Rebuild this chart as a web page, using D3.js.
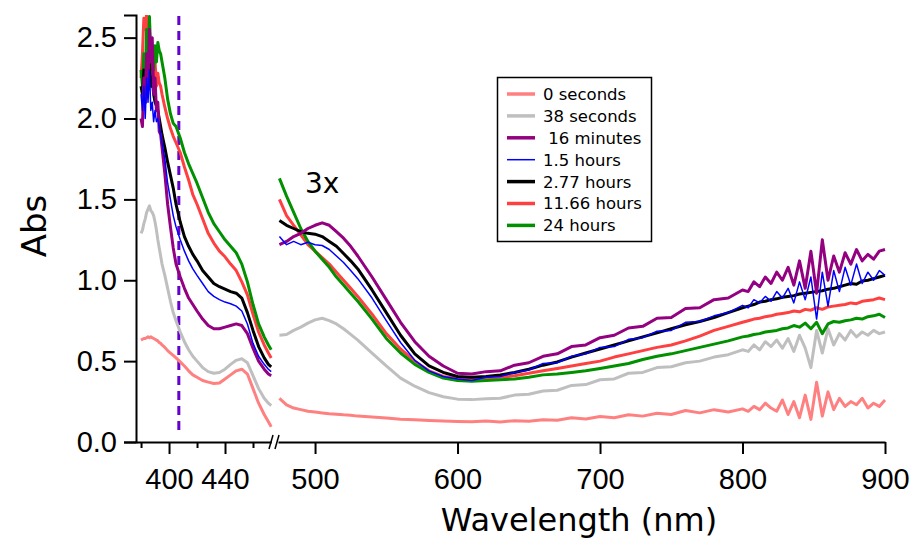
<!doctype html>
<html>
<head>
<script src="https://cdnjs.cloudflare.com/ajax/libs/d3/7.8.5/d3.min.js"></script>
<style>
  body { margin: 0; background: #fff; }
  svg { font-family: "DejaVu Sans", sans-serif; }
  .axis path, .axis line { stroke: #000; stroke-width: 2px; }
  .axis text { font-size: 29px; fill: #000; }
  .legend text { font-size: 16.5px; white-space: pre; }
</style>
</head>
<body>
<svg width="919" height="544"></svg>
<script>
// wavelengths (nm) of the two axis segments
var waveLeft = [380, 381, 382, 383, 384, 385, 386, 387, 388, 389, 390, 391, 392, 393, 394, 395,
  397, 399, 401, 403, 405, 408, 411, 414, 417, 420, 424, 428, 432, 436, 440, 444, 448, 452, 456,
  460, 464, 468, 471, 473];
var waveRight = [475, 480, 485, 490, 495, 500, 505, 510, 515, 520, 525, 530, 540, 550, 560, 570, 580, 590, 600,
  610, 620, 630, 640, 650, 660, 670, 680, 690, 700, 710, 720, 730, 740, 750, 760, 770, 780, 790, 800,
  804, 808, 812, 816, 820, 824, 828, 832, 836, 840, 844, 848, 852, 856, 860, 864, 868, 872, 876, 880,
  884, 888, 892, 896, 900];

var seriesNames = ["0 seconds", "38 seconds", " 16 minutes", "1.5 hours", "2.77 hours", "11.66 hours", "24 hours"];
var seriesColors = ["#ff8080", "#bfbfbf", "#930080", "#0000ff", "#000000", "#ff4040", "#009000"];

// absorbance, left segment (380-473 nm)
var left0s = [0.63, 0.635, 0.64, 0.64, 0.645, 0.65, 0.645, 0.65, 0.645, 0.64, 0.635, 0.63, 0.625, 0.615, 0.61, 0.60,
  0.585, 0.565, 0.55, 0.535, 0.52, 0.495, 0.47, 0.44, 0.415, 0.40, 0.38, 0.37, 0.362, 0.365, 0.39, 0.415, 0.44, 0.45, 0.42,
  0.33, 0.24, 0.17, 0.125, 0.095];
var left38s = [1.29, 1.31, 1.35, 1.38, 1.42, 1.44, 1.46, 1.43, 1.42, 1.40, 1.36, 1.31, 1.25, 1.20, 1.15, 1.10,
  1.03, 0.95, 0.87, 0.80, 0.75, 0.68, 0.62, 0.57, 0.53, 0.50, 0.46, 0.435, 0.425, 0.43, 0.45, 0.48, 0.505, 0.515, 0.49,
  0.41, 0.33, 0.27, 0.24, 0.225];
var left16m = [2.00, 1.95, 2.25, 2.10, 2.40, 2.20, 2.55, 2.35, 2.50, 2.15, 2.25, 2.05, 2.10, 1.92, 1.90, 1.82,
  1.66, 1.47, 1.33, 1.20, 1.10, 1.02, 0.95, 0.89, 0.85, 0.81, 0.76, 0.72, 0.70, 0.70, 0.71, 0.72, 0.73, 0.72, 0.67,
  0.58, 0.50, 0.45, 0.42, 0.41];
var left1_5h = [2.15, 2.05, 2.20, 2.00, 2.25, 2.10, 2.30, 2.05, 2.10, 1.98, 2.05, 1.98, 2.00, 1.95, 1.90, 1.85,
  1.75, 1.60, 1.50, 1.40, 1.33, 1.25, 1.18, 1.12, 1.07, 1.03, 0.98, 0.93, 0.90, 0.88, 0.865, 0.855, 0.84, 0.81, 0.73,
  0.61, 0.53, 0.48, 0.45, 0.435];
var left2_77h = [2.20, 2.15, 2.30, 2.10, 2.35, 2.20, 2.40, 2.20, 2.25, 2.15, 2.10, 2.08, 2.05, 2.00, 1.95, 1.90,
  1.82, 1.73, 1.65, 1.57, 1.47, 1.36, 1.27, 1.21, 1.16, 1.12, 1.06, 1.02, 0.98, 0.96, 0.945, 0.93, 0.92, 0.89, 0.80,
  0.69, 0.59, 0.52, 0.48, 0.465];
var left11_66h = [2.25, 2.40, 2.62, 2.55, 2.65, 2.35, 2.50, 2.30, 2.45, 2.25, 2.35, 2.20, 2.28, 2.22, 2.20, 2.15,
  2.07, 2.00, 1.94, 1.89, 1.85, 1.79, 1.70, 1.62, 1.53, 1.47, 1.38, 1.29, 1.23, 1.18, 1.145, 1.10, 1.06, 0.99, 0.91,
  0.79, 0.68, 0.60, 0.55, 0.52];
var left24h = [2.30, 2.20, 2.40, 2.25, 2.55, 2.35, 2.63, 2.40, 2.45, 2.30, 2.45, 2.35, 2.47, 2.42, 2.40, 2.35,
  2.25, 2.12, 2.03, 1.97, 1.95, 1.88, 1.79, 1.72, 1.66, 1.60, 1.51, 1.42, 1.35, 1.30, 1.25, 1.21, 1.17, 1.10, 0.99,
  0.85, 0.73, 0.65, 0.60, 0.57];

// absorbance, right segment (475-900 nm, shown 3x)
var right0s = [0.27, 0.23, 0.21, 0.20, 0.19, 0.185, 0.18, 0.175, 0.172, 0.168, 0.165, 0.16, 0.155, 0.148, 0.14, 0.137, 0.133, 0.13, 0.127,
  0.125, 0.13, 0.124, 0.132, 0.128, 0.138, 0.134, 0.15, 0.142, 0.158, 0.15, 0.168, 0.16, 0.178, 0.17, 0.195, 0.18, 0.20, 0.185, 0.205,
  0.19, 0.22, 0.20, 0.24, 0.21, 0.19, 0.26, 0.17, 0.25, 0.15, 0.29, 0.14, 0.37, 0.16, 0.31, 0.20, 0.27, 0.22, 0.25, 0.23,
  0.27, 0.21, 0.24, 0.22, 0.26];
var right38s = [0.66, 0.665, 0.69, 0.71, 0.735, 0.755, 0.765, 0.75, 0.73, 0.70, 0.665, 0.63, 0.55, 0.47, 0.395, 0.345, 0.305, 0.28, 0.265,
  0.262, 0.268, 0.27, 0.29, 0.295, 0.315, 0.32, 0.35, 0.355, 0.385, 0.39, 0.425, 0.43, 0.46, 0.465, 0.49, 0.50, 0.525, 0.54, 0.57,
  0.56, 0.60, 0.57, 0.62, 0.59, 0.63, 0.58, 0.64, 0.56, 0.66, 0.58, 0.46, 0.69, 0.55, 0.70, 0.60, 0.67, 0.63, 0.69, 0.65,
  0.68, 0.66, 0.69, 0.67, 0.68];
var right16m = [1.22, 1.24, 1.27, 1.29, 1.32, 1.34, 1.355, 1.34, 1.30, 1.26, 1.21, 1.15, 1.02, 0.88, 0.74, 0.62, 0.53, 0.47, 0.425,
  0.42, 0.435, 0.44, 0.475, 0.49, 0.53, 0.545, 0.59, 0.60, 0.645, 0.66, 0.705, 0.715, 0.765, 0.77, 0.825, 0.83, 0.88, 0.89, 0.94,
  0.93, 0.99, 0.96, 1.02, 0.98, 1.05, 1.00, 1.08, 0.97, 1.12, 0.95, 1.18, 0.92, 1.25, 1.00, 1.15, 1.05, 1.17, 1.10, 1.19,
  1.12, 1.16, 1.13, 1.18, 1.19];
var right1_5h = [1.27, 1.22, 1.24, 1.22, 1.235, 1.22, 1.215, 1.19, 1.15, 1.11, 1.06, 1.01, 0.89, 0.75, 0.615, 0.505, 0.44, 0.405, 0.39,
  0.38, 0.40, 0.405, 0.43, 0.445, 0.485, 0.49, 0.53, 0.545, 0.585, 0.59, 0.635, 0.645, 0.685, 0.69, 0.74, 0.745, 0.78, 0.80, 0.845,
  0.83, 0.88, 0.86, 0.90, 0.87, 0.93, 0.89, 0.95, 0.86, 0.99, 0.88, 1.02, 0.76, 1.05, 0.84, 1.06, 0.93, 1.08, 0.97, 1.10,
  0.98, 1.05, 1.00, 1.06, 1.03];
var right2_77h = [1.37, 1.34, 1.32, 1.30, 1.29, 1.285, 1.27, 1.24, 1.21, 1.165, 1.12, 1.07, 0.94, 0.80, 0.66, 0.545, 0.47, 0.43, 0.405,
  0.40, 0.405, 0.415, 0.43, 0.45, 0.475, 0.495, 0.525, 0.55, 0.575, 0.60, 0.625, 0.65, 0.675, 0.70, 0.725, 0.745, 0.77, 0.80, 0.83,
  0.84, 0.85, 0.865, 0.87, 0.88, 0.885, 0.895, 0.90, 0.905, 0.915, 0.92, 0.925, 0.93, 0.935, 0.945, 0.95, 0.96, 0.97, 0.98, 0.975,
  0.995, 1.00, 1.01, 1.02, 1.03];
var right11_66h = [1.50, 1.40, 1.34, 1.28, 1.22, 1.18, 1.14, 1.10, 1.05, 1.00, 0.95, 0.90, 0.79, 0.67, 0.575, 0.50, 0.44, 0.405, 0.392,
  0.39, 0.395, 0.40, 0.41, 0.425, 0.44, 0.455, 0.47, 0.485, 0.50, 0.525, 0.545, 0.565, 0.585, 0.60, 0.625, 0.655, 0.69, 0.715, 0.74,
  0.75, 0.76, 0.765, 0.775, 0.78, 0.79, 0.795, 0.80, 0.81, 0.805, 0.82, 0.815, 0.83, 0.82, 0.835, 0.84, 0.845, 0.85, 0.86, 0.855,
  0.87, 0.875, 0.88, 0.89, 0.88];
var right24h = [1.63, 1.52, 1.42, 1.32, 1.24, 1.18, 1.13, 1.08, 1.02, 0.97, 0.92, 0.87, 0.76, 0.64, 0.55, 0.48, 0.43, 0.395, 0.38,
  0.375, 0.38, 0.385, 0.39, 0.40, 0.415, 0.42, 0.43, 0.44, 0.455, 0.47, 0.485, 0.51, 0.53, 0.545, 0.565, 0.585, 0.605, 0.625, 0.65,
  0.655, 0.665, 0.67, 0.68, 0.685, 0.69, 0.70, 0.705, 0.72, 0.71, 0.735, 0.70, 0.74, 0.67, 0.73, 0.745, 0.74, 0.75, 0.755, 0.765,
  0.76, 0.775, 0.78, 0.79, 0.77];

var leftValues = [left0s, left38s, left16m, left1_5h, left2_77h, left11_66h, left24h];
var rightValues = [right0s, right38s, right16m, right1_5h, right2_77h, right11_66h, right24h];

var yTicks = [0, 0.5, 1.0, 1.5, 2.0, 2.5];
var xTicksLeft = [400, 440];
var xMinorLeft = [380, 420, 460];
var xTicksRight = [500, 600, 700, 800, 900];
var markerWave = 407;

var svg = d3.select("svg");

var yScale = d3.scaleLinear().domain([0, 2.64]).range([442, 15]);
var xLeft = d3.scaleLinear().domain([376.4, 473]).range([136, 271.2]);
var xRight = d3.scaleLinear().domain([474, 900]).range([278, 885]);

svg.append("defs").append("clipPath").attr("id", "plotClip")
  .append("rect").attr("x", 136).attr("y", 15).attr("width", 760).attr("height", 427);

// axes
var yAxis = d3.axisLeft(yScale).tickValues(yTicks).tickSize(12).tickPadding(7).tickFormat(d3.format(".1f"));
svg.append("g").attr("class", "axis").attr("transform", "translate(136,0)").call(yAxis);

svg.append("g").attr("class", "axis").attr("transform", "translate(0,442)")
  .call(d3.axisBottom(xLeft).tickValues(xTicksLeft).tickSize(12).tickPadding(14).tickSizeOuter(0));
svg.append("g").attr("class", "axis").attr("transform", "translate(0,442)")
  .call(d3.axisBottom(xLeft).tickValues(xMinorLeft).tickSize(6).tickFormat("").tickSizeOuter(0))
  .select("path").remove();
svg.append("g").attr("class", "axis").attr("transform", "translate(0,442)")
  .call(d3.axisBottom(xRight).tickValues(xTicksRight).tickSize(12).tickPadding(14).tickSizeOuter(0));

// axis break marks
[271, 277].forEach(function(bx) {
  svg.append("line").attr("x1", bx - 2).attr("y1", 449).attr("x2", bx + 2).attr("y2", 435)
    .attr("stroke", "#000").attr("stroke-width", 1.5);
});

// dashed marker line
svg.append("line")
  .attr("x1", xLeft(markerWave)).attr("x2", xLeft(markerWave))
  .attr("y1", 16).attr("y2", 432)
  .attr("stroke", "#6600cc").attr("stroke-width", 3).attr("stroke-dasharray", "9,6");

// spectra
var plot = svg.append("g").attr("clip-path", "url(#plotClip)");
var lineLeft = d3.line().x(d => xLeft(d[0])).y(d => yScale(d[1]));
var lineRight = d3.line().x(d => xRight(d[0])).y(d => yScale(d[1]));
var drawOrder = [0, 1, 5, 6, 4, 2, 3];
drawOrder.forEach(function(i) {
  var w = i === 3 ? 1.5 : 3;
  plot.append("path").datum(d3.zip(waveLeft, leftValues[i]))
    .attr("d", lineLeft).attr("fill", "none")
    .attr("stroke", seriesColors[i]).attr("stroke-width", w).attr("stroke-linejoin", "round");
  plot.append("path").datum(d3.zip(waveRight, rightValues[i]))
    .attr("d", lineRight).attr("fill", "none")
    .attr("stroke", seriesColors[i]).attr("stroke-width", w).attr("stroke-linejoin", "round");
});

svg.append("text").attr("x", 305).attr("y", 193).style("font-size", "28px").text("3x");

// axis titles
svg.append("text").attr("x", 579).attr("y", 531).attr("text-anchor", "middle")
  .style("font-size", "32px").text("Wavelength (nm)");
svg.append("text").attr("transform", "translate(46,226) rotate(-90)").attr("text-anchor", "middle")
  .style("font-size", "34px").text("Abs");

// legend
var legend = svg.append("g").attr("class", "legend");
legend.append("rect").attr("x", 497.5).attr("y", 77.5).attr("width", 154).attr("height", 164)
  .attr("fill", "#fff").attr("stroke", "#000").attr("stroke-width", 1.5);
seriesNames.forEach(function(name, i) {
  var ly = 94 + i * 21.9;
  legend.append("line").attr("x1", 507).attr("x2", 535).attr("y1", ly).attr("y2", ly)
    .attr("stroke", seriesColors[i]).attr("stroke-width", i === 3 ? 1.5 : 3.5);
  legend.append("text").attr("x", 543).attr("y", ly).attr("dy", "0.36em").text(name);
});
</script>
</body>
</html>
